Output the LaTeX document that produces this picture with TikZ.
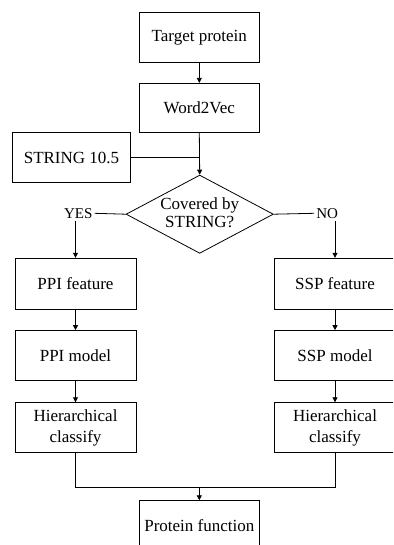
\documentclass[tikz,border=0pt]{standalone}
\usepackage{fontspec}
\setmainfont{Liberation Serif}
\usetikzlibrary{shapes.geometric,arrows.meta}
\begin{document}
\begin{tikzpicture}[x=1pt,y=-1pt,
  box/.style={draw,line width=0.8pt,minimum width=121pt,minimum height=50pt,inner sep=0pt,
    font=\fontsize{17}{21}\selectfont,align=center},
  lbl/.style={inner sep=2pt,font=\fontsize{15}{17}\selectfont},
  link/.style={line width=0.8pt},
  arr/.style={link,-{Triangle[length=5pt,width=5pt]}}]
\useasboundingbox (0,0) rectangle (393,545);
\clip (0,0) rectangle (393,545);
\node[box,minimum width=120pt,minimum height=49.6pt] (tp) at (199.3,37.5) {Target protein};
\node[box,minimum width=120pt,minimum height=49.4pt] (w2v) at (199.3,108) {Word2Vec};
\node[box,minimum width=118.4pt] (str) at (71.5,157.7) {STRING 10.5};
\node[draw,line width=0.8pt,diamond,inner sep=0pt,minimum width=147.3pt,minimum height=78.3pt] (dia) at (199.7,214.2) {};
\node[align=center,inner sep=0pt,font=\fontsize{17}{17.5}\selectfont] (diatext) at (199.7,212.5) {Covered by\\STRING?};
\node[lbl] (yes) at (78.3,213.3) {YES};
\node[lbl] (no) at (327.2,213.3) {NO};
\node[box,minimum height=51pt] (ppif) at (75.5,283.7) {PPI feature};
\node[box,minimum height=49.5pt] (ppim) at (75.5,355.3) {PPI model};
\node[box] (ppih) at (75.5,427.7) {Hierarchical\\classify};
\node[box,minimum height=51pt] (sspf) at (335,283.7) {SSP feature};
\node[box,minimum height=49.5pt] (sspm) at (335,355.3) {SSP model};
\node[box] (ssph) at (335,427.7) {Hierarchical\\classify};
\node[box,minimum width=120pt] (pf) at (199.3,525.7) {Protein function};
\coordinate (merge) at (199.3,157.7);
\coordinate (join) at (199.3,487.7);
\draw[arr] (tp) -- (w2v);
\draw[link] (str.east) -- (merge);
\draw[arr] (w2v.south) -- (dia.north);
\draw[link] (dia.west) -- (yes.east);
\draw[link] (dia.east) -- (no.west);
\draw[arr] (ppif.north |- yes.south) -- (ppif.north);
\draw[arr] (sspf.north |- no.south) -- (sspf.north);
\draw[arr] (ppif) -- (ppim);
\draw[arr] (ppim) -- (ppih);
\draw[arr] (sspf) -- (sspm);
\draw[arr] (sspm) -- (ssph);
\draw[link] (ppih.south) |- (join) -| (ssph.south);
\draw[arr] (join) -- (pf.north);
\end{tikzpicture}
\end{document}
